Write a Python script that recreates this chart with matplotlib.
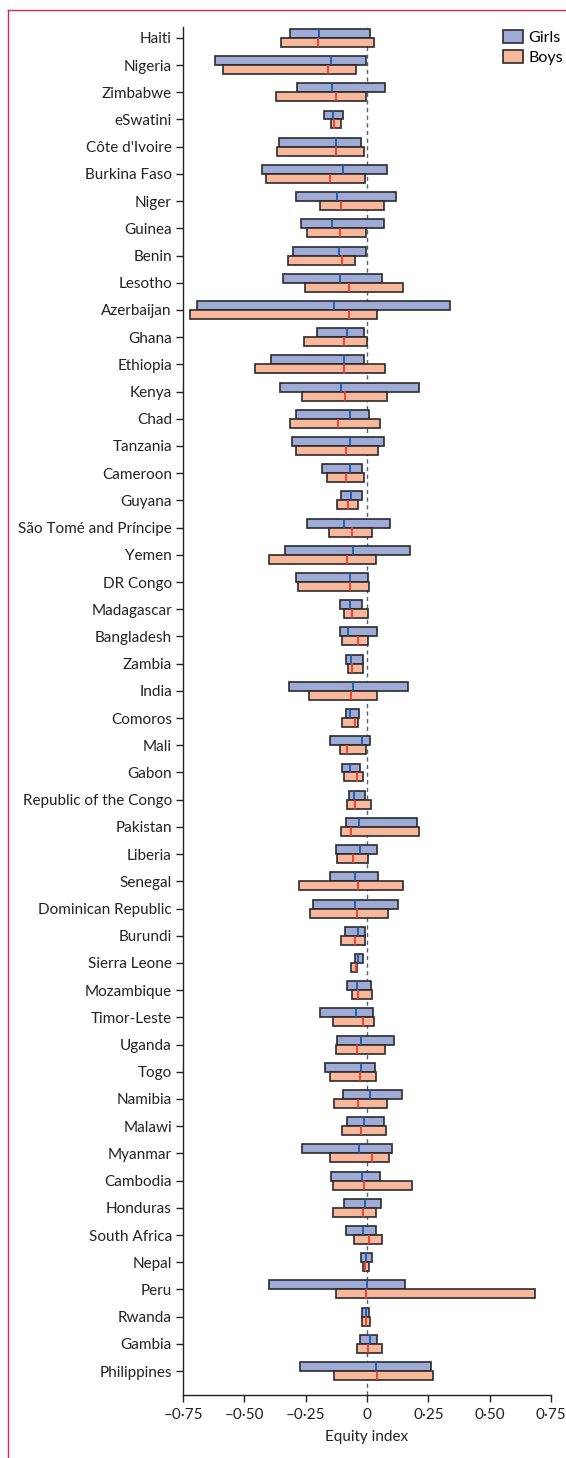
import matplotlib
matplotlib.use("Agg")
import matplotlib.pyplot as plt
from matplotlib.patches import Patch
from matplotlib.lines import Line2D
import numpy as np

# Países (de arriba a abajo)
paises = [
    "Haiti", "Nigeria", "Zimbabwe", "eSwatini", "Côte d'Ivoire", "Burkina Faso",
    "Niger", "Guinea", "Benin", "Lesotho", "Azerbaijan", "Ghana", "Ethiopia",
    "Kenya", "Chad", "Tanzania", "Cameroon", "Guyana", "São Tomé and Príncipe",
    "Yemen", "DR Congo", "Madagascar", "Bangladesh", "Zambia", "India", "Comoros",
    "Mali", "Gabon", "Republic of the Congo", "Pakistan", "Liberia", "Senegal",
    "Dominican Republic", "Burundi", "Sierra Leone", "Mozambique", "Timor-Leste",
    "Uganda", "Togo", "Namibia", "Malawi", "Myanmar", "Cambodia", "Honduras",
    "South Africa", "Nepal", "Peru", "Rwanda", "Gambia", "Philippines",
]

# Niñas: mínimo, máximo, mediana
ninas_min = [-0.315, -0.620, -0.287, -0.177, -0.357, -0.427, -0.289, -0.269, -0.303, -0.341,
             -0.692, -0.204, -0.393, -0.355, -0.288, -0.307, -0.182, -0.107, -0.245, -0.334,
             -0.289, -0.111, -0.110, -0.084, -0.318, -0.084, -0.149, -0.102, -0.075, -0.087,
             -0.128, -0.149, -0.220, -0.091, -0.048, -0.083, -0.190, -0.124, -0.171, -0.098,
             -0.080, -0.265, -0.145, -0.094, -0.086, -0.023, -0.399, -0.019, -0.027, -0.272]
ninas_max = [0.014, -0.003, 0.072, -0.098, -0.024, 0.082, 0.120, 0.068, -0.003, 0.061,
             0.340, -0.012, -0.014, 0.212, 0.010, 0.069, -0.020, -0.022, 0.095, 0.177,
             0.003, -0.020, 0.041, -0.018, 0.167, -0.034, 0.014, -0.030, -0.008, 0.204,
             0.042, 0.043, 0.126, -0.007, -0.018, 0.016, 0.023, 0.110, 0.034, 0.143,
             0.069, 0.102, 0.052, 0.057, 0.036, 0.019, 0.154, 0.008, 0.042, 0.262]
ninas_med = [-0.197, -0.145, -0.144, -0.139, -0.128, -0.096, -0.121, -0.141, -0.114, -0.111,
             -0.133, -0.080, -0.092, -0.105, -0.071, -0.069, -0.071, -0.064, -0.094, -0.057,
             -0.068, -0.069, -0.077, -0.065, -0.056, -0.069, -0.019, -0.069, -0.052, -0.034,
             -0.027, -0.048, -0.048, -0.035, -0.037, -0.039, -0.045, -0.024, -0.026, 0.014,
             -0.014, -0.034, -0.022, -0.010, -0.015, -0.005, -0.001, -0.003, 0.011, 0.035]

# Niños: mínimo, máximo, mediana
ninos_min = [-0.349, -0.587, -0.371, -0.147, -0.365, -0.412, -0.193, -0.245, -0.322, -0.251,
             -0.720, -0.255, -0.457, -0.265, -0.314, -0.289, -0.163, -0.121, -0.155, -0.401,
             -0.283, -0.094, -0.102, -0.077, -0.235, -0.102, -0.110, -0.095, -0.083, -0.106,
             -0.124, -0.277, -0.231, -0.105, -0.065, -0.060, -0.137, -0.128, -0.149, -0.136,
             -0.103, -0.149, -0.139, -0.137, -0.053, -0.015, -0.125, -0.019, -0.039, -0.133]
ninos_max = [0.029, -0.045, -0.003, -0.107, -0.012, -0.008, 0.068, -0.004, -0.049, 0.147,
             0.041, 0.000, 0.075, 0.080, 0.054, 0.045, -0.014, -0.037, 0.020, 0.037,
             0.008, 0.004, 0.005, -0.015, 0.041, -0.037, -0.004, -0.018, 0.016, 0.213,
             0.004, 0.147, 0.087, -0.008, -0.041, 0.019, 0.028, 0.075, 0.037, 0.083,
             0.076, 0.091, 0.182, 0.038, 0.060, 0.007, 0.686, 0.012, 0.061, 0.270]
ninos_med = [-0.201, -0.160, -0.128, -0.133, -0.126, -0.149, -0.105, -0.111, -0.102, -0.072,
             -0.072, -0.095, -0.094, -0.088, -0.120, -0.084, -0.084, -0.079, -0.060, -0.080,
             -0.069, -0.060, -0.035, -0.060, -0.065, -0.049, -0.083, -0.042, -0.049, -0.064,
             -0.056, -0.037, -0.042, -0.050, -0.043, -0.035, -0.018, -0.041, -0.027, -0.037,
             -0.026, 0.022, -0.014, -0.018, 0.010, -0.008, -0.004, -0.005, 0.005, 0.039]

ticks_x = [-0.75, -0.5, -0.25, 0, 0.25, 0.5, 0.75]
etiquetas_x = ["–0·75", "–0·50", "–0·25", "0", "0·25", "0·50", "0·75"]

plt.rcParams['font.family'] = ['Lato', 'DejaVu Sans']

azul = "#9eabd6"
salmon = "#f9b89b"
borde = "#2b2b2b"
texto = "#222222"

fig = plt.figure(figsize=(5.66, 14.58), dpi=100)
ax = fig.add_axes([0.3233, 0.0432, 0.6502, 0.9383])

y = np.arange(len(paises))
alto = 0.33
ninas_min = np.array(ninas_min); ninas_max = np.array(ninas_max)
ninos_min = np.array(ninos_min); ninos_max = np.array(ninos_max)

ax.axvline(0, color="#4d6478", lw=1.0, ls=(0, (3, 2.5)), zorder=1)

ax.barh(y - alto / 2, ninas_max - ninas_min, left=ninas_min, height=alto,
        color=azul, edgecolor=borde, lw=1.2, zorder=2)
ax.barh(y + alto / 2, ninos_max - ninos_min, left=ninos_min, height=alto,
        color=salmon, edgecolor=borde, lw=1.2, zorder=2)

# Medianas
for i in range(len(paises)):
    ax.plot([ninas_med[i]] * 2, [i - alto + 0.03, i - 0.03], color="#1f5aa8", lw=1.3, zorder=3)
    ax.plot([ninos_med[i]] * 2, [i + 0.03, i + alto - 0.03], color="#f03a2a", lw=1.3, zorder=3)

ax.set_yticks(y)
ax.set_yticklabels(paises, fontsize=11, color=texto)
ax.set_ylim(len(paises) - 1 + 0.88, -0.4)
ax.set_xlim(-0.75, 0.75)
ax.set_xticks(ticks_x)
ax.set_xticklabels(etiquetas_x, fontsize=11, color=texto)
ax.set_xlabel("Equity index", fontsize=11, color=texto, labelpad=6)

for lado in ["top", "right"]:
    ax.spines[lado].set_visible(False)
for lado in ["left", "bottom"]:
    ax.spines[lado].set_color(texto)
    ax.spines[lado].set_linewidth(1.0)
ax.tick_params(axis="both", length=5, width=1.0, color=texto)
ax.tick_params(axis="y", pad=3)
ax.tick_params(axis="x", pad=4)

leyenda = [Patch(facecolor=azul, edgecolor=borde, lw=1.2, label="Girls"),
           Patch(facecolor=salmon, edgecolor=borde, lw=1.2, label="Boys")]
fig.legend(handles=leyenda, loc="upper right", bbox_to_anchor=(566 / 566, 1 - 27 / 1458),
           frameon=False, fontsize=11.5, handlelength=1.25, handleheight=0.85,
           handletextpad=0.35, labelspacing=0.3, borderaxespad=0.0, borderpad=0.2)

# Marco rojo (estilo revista)
rojo = "#d6295d"
fig.add_artist(Line2D([8 / 566, 8 / 566], [0, 1 - 10 / 1458], color=rojo, lw=1.0,
                      transform=fig.transFigure))
fig.add_artist(Line2D([8 / 566, 1], [1 - 10 / 1458, 1 - 10 / 1458], color=rojo, lw=1.0,
                      transform=fig.transFigure))

fig.savefig("out.png", dpi=100)
